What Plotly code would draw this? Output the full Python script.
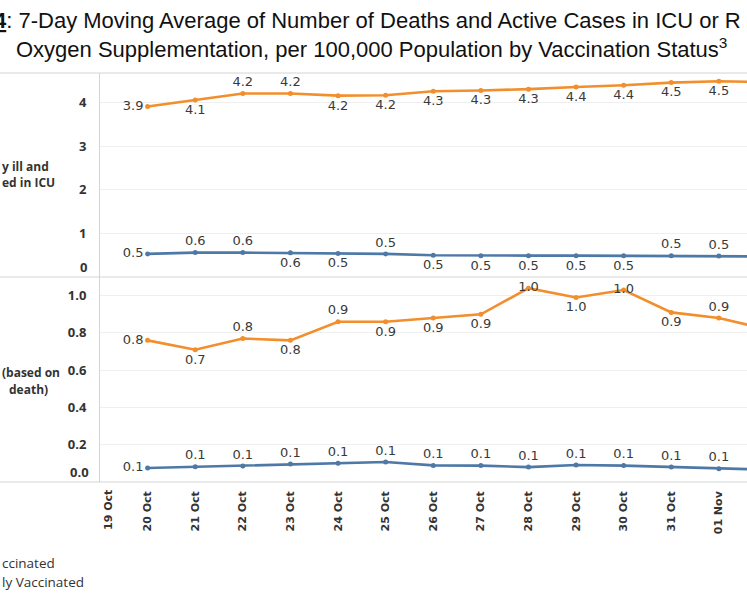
import plotly.graph_objects as go
from plotly.subplots import make_subplots

# Data (7-day moving averages per 100,000)
dates = ["2021-10-20", "2021-10-21", "2021-10-22", "2021-10-23", "2021-10-24",
         "2021-10-25", "2021-10-26", "2021-10-27", "2021-10-28", "2021-10-29",
         "2021-10-30", "2021-10-31", "2021-11-01", "2021-11-02"]
icu_unvax = [3.91, 4.06, 4.21, 4.21, 4.16, 4.17, 4.26, 4.28, 4.31, 4.36, 4.40, 4.46, 4.49, 4.47]
icu_vax = [0.53, 0.56, 0.56, 0.555, 0.54, 0.53, 0.50, 0.49, 0.49, 0.49, 0.49, 0.485, 0.48, 0.47]
deaths_unvax = [0.76, 0.71, 0.77, 0.76, 0.86, 0.86, 0.88, 0.90, 1.04, 0.99, 1.03, 0.91, 0.88, 0.82]
deaths_vax = [0.075, 0.082, 0.086, 0.097, 0.10, 0.107, 0.089, 0.088, 0.08, 0.091, 0.088, 0.08, 0.071, 0.066]

tick_dates = dates[:13]
icu_ticks = [1, 2, 3, 4]
death_ticks = [0.2, 0.4, 0.6, 0.8, 1.0]

# label placement per point (mimics the original's collision handling)
B, T, L, C = "bottom center", "top center", "middle left", "middle center"
icu_unvax_pos = [L, B, T, T] + [B] * 10
icu_vax_pos = [L, T, T, B, B, T, B, B, B, B, B, T, T, T]
deaths_unvax_pos = [L, B, T, B, T, B, B, B, C, B, C, B, T, T]
deaths_vax_pos = [L] + [T] * 13

ORANGE = "#f28e2b"
BLUE = "#4e79a7"
W, H = 747, 598
LEFT, TOP, BOT = 100, 73, 482
SPLIT = 277


def px_x(p):
    return (p - LEFT) / (W - LEFT)


def px_y(p):
    return (BOT - p) / (BOT - TOP)


fig = make_subplots(rows=2, cols=1, shared_xaxes=True, vertical_spacing=0)


def add_line(y, pos, color, row):
    fig.add_trace(go.Scatter(
        x=dates, y=y, mode="lines+markers+text",
        text=[f"{v:.1f}" for v in y], textposition=pos,
        textfont=dict(family="DejaVu Sans", size=13, color="#3a3a3a"),
        line=dict(color=color, width=2.6),
        marker=dict(color=color, size=5),
        showlegend=False, hoverinfo="skip"), row=row, col=1)


add_line(icu_unvax, icu_unvax_pos, ORANGE, 1)
add_line(icu_vax, icu_vax_pos, BLUE, 1)
add_line(deaths_unvax, deaths_unvax_pos, ORANGE, 2)
add_line(deaths_vax, deaths_vax_pos, BLUE, 2)

split = px_y(SPLIT)
yfont = dict(family="Open Sans", size=13, color="#333333", weight="bold")
fig.update_yaxes(showgrid=True, gridcolor="#efefef", gridwidth=1, zeroline=False,
                 showline=True, linecolor="#d4d4d4", linewidth=1,
                 ticks="outside", ticklen=0, ticklabelstandoff=10, tickfont=yfont)
fig.update_yaxes(domain=[split, 1], range=[0, 4.68], tickvals=icu_ticks, row=1, col=1)
fig.update_yaxes(domain=[0, split], range=[0, 1.10], tickvals=death_ticks,
                 tickformat=".1f", row=2, col=1)

xr = ["2021-10-19", "2021-11-01 14:10"]
fig.update_xaxes(range=xr, showgrid=False, zeroline=False, showline=False, type="date")
fig.update_xaxes(showticklabels=False, row=1, col=1)
fig.update_xaxes(tickvals=tick_dates, tickformat="%d %b", tickangle=-90,
                 ticklabelstandoff=6,
                 tickfont=dict(family="DejaVu Sans", size=11, color="#333333", weight="bold"),
                 row=2, col=1)

# panel border lines running across the full width
shapes = []
for yy in [1, split, 0]:
    shapes.append(dict(type="line", xref="paper", yref="paper", x0=px_x(0), x1=1,
                       y0=yy, y1=yy, line=dict(color="#d4d4d4", width=1)))

hdr = dict(family="Open Sans", size=12, color="#333333", weight="bold")
leg = dict(family="Open Sans", size=13.5, color="#333333")
tfont = dict(family="Liberation Sans", size=22, color="#111111")
ann = [
    dict(text="<b><u>4</u></b>: 7-Day Moving Average of Number of Deaths and Active Cases in ICU or R",
         x=px_x(-8), y=px_y(20), xanchor="left", yanchor="middle", font=tfont),
    dict(text="Oxygen Supplementation, per 100,000 Population by Vaccination Status<sup>3</sup>",
         x=px_x(14), y=px_y(48), xanchor="left", yanchor="middle", font=tfont),
    dict(text="y ill and", x=px_x(0), y=px_y(166), xanchor="left", yanchor="middle", font=hdr),
    dict(text="ed in ICU", x=px_x(0), y=px_y(182), xanchor="left", yanchor="middle", font=hdr),
    dict(text="(based on", x=px_x(0), y=px_y(372), xanchor="left", yanchor="middle", font=hdr),
    dict(text="death)", x=px_x(7), y=px_y(389), xanchor="left", yanchor="middle", font=hdr),
    dict(text="0", x=px_x(89), y=px_y(267), xanchor="right", yanchor="middle", font=yfont),
    dict(text="0.0", x=px_x(91), y=px_y(472), xanchor="right", yanchor="middle", font=yfont),
    dict(text="19 Oct", x=px_x(108), y=px_y(510), xanchor="center", yanchor="middle",
         textangle=-90, font=dict(family="DejaVu Sans", size=11, color="#333333", weight="bold")),
    dict(text="ccinated", x=px_x(0), y=px_y(563), xanchor="left", yanchor="middle", font=leg),
    dict(text="ly Vaccinated", x=px_x(0), y=px_y(582), xanchor="left", yanchor="middle", font=leg),
]
for a in ann:
    a.update(xref="paper", yref="paper", showarrow=False)

fig.update_layout(
    width=W, height=H,
    margin=dict(l=LEFT, r=0, t=TOP, b=H - BOT, pad=0),
    paper_bgcolor="white", plot_bgcolor="white",
    shapes=shapes, annotations=ann,
)

# drop the browser's default 8px body margin so the figure sits at the window corner
fig.write_html("out.html", config={"displayModeBar": False},
               post_script="document.body.style.margin='0px';")
